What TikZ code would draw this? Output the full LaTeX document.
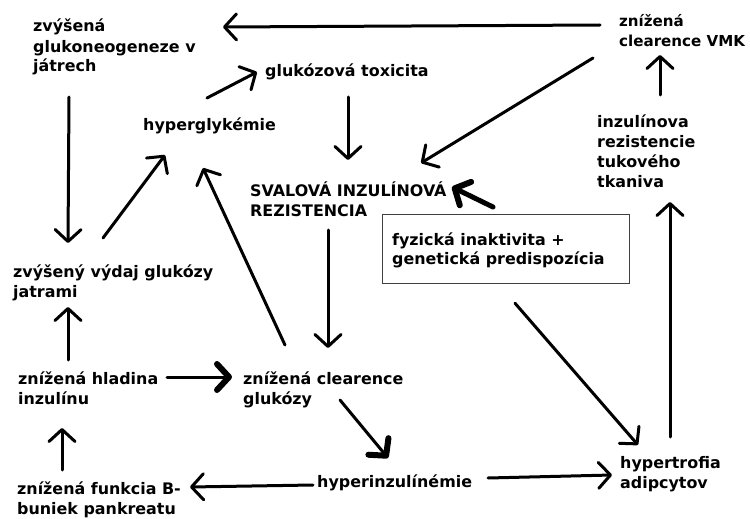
\documentclass[tikz,border=0pt]{standalone}
\usepackage{fontspec}
\setmainfont{DejaVu Sans}
\usetikzlibrary{arrows.meta,calc}
\tikzset{
  lbl/.style={anchor=base west, inner sep=0pt, align=left,
    font=\bfseries\fontsize{15.9}{20}\selectfont, text=black},
  conn/.style={line width=3pt, line cap=round,
    -{Straight Barb[length=12pt,width=26pt,round]}},
  boldconn/.style={line width=3pt, line cap=round,
    -{Straight Barb[length=12pt,width=26pt,round,line width=6pt]}},
  boxframe/.style={draw=black!75, line width=1.2pt, inner sep=0pt, anchor=north west,
    minimum width=247pt, minimum height=69pt},
}
\begin{document}
\begin{tikzpicture}[x=1pt,y=-1pt]
\useasboundingbox (0,0) rectangle (750,519);
% nodes (placed at the baseline of their last line)
\node[lbl] (gneo) at (33,72) {zvýšená\\glukoneogeneze v\\játrech};
\node[lbl] (hyperg) at (143,130) {hyperglykémie};
\node[lbl] (toxic) at (265,77) {glukózová toxicita};
\node[lbl] (sval) at (250,216) {SVALOVÁ INZULÍNOVÁ\\REZISTENCIA};
\node[lbl, font=\bfseries\fontsize{15.1}{20}\selectfont] (vmk) at (619,47) {znížená\\clearence VMK};
\node[lbl] (tuk) at (597,187) {inzulínova\\rezistencie\\tukového\\tkaniva};
\node[boxframe] (box) at (382,214) {};
\node[lbl, font=\bfseries\fontsize{15.9}{19}\selectfont] (boxtext) at (392,264) {fyzická inaktivita +\\genetická predispozícia};
\node[lbl] (vydaj) at (13,297) {zvýšený výdaj glukózy\\jatrami};
\node[lbl] (hladina) at (18,404) {znížená hladina\\inzulínu};
\node[lbl] (clear) at (243,404) {znížená clearence\\glukózy};
\node[lbl] (funkcia) at (17,514) {znížená funkcia B-\\buniek pankreatu};
\node[lbl] (hyperinz) at (317,487) {hyperinzulínémie};
\node[lbl] (hypertrof) at (620,488) {hypertrofia\\adipcytov};
% connectors
\draw[conn] ($(vmk.base west)+(-19,-22)$) -- ($(gneo.base west)+(190,-45)$);
\draw[conn] ($(gneo.base west)+(36,25)$) -- ($(vydaj.base west)+(55,-54)$);
\draw[conn] ($(vydaj.base west)+(90,-59)$) -- ($(hyperg.base west)+(22,25)$);
\draw[conn] ($(hyperg.base west)+(64,-32)$) -- ($(toxic.base west)+(-8,-5)$);
\draw[conn] ($(toxic.base west)+(83,20)$) -- ($(sval.base west)+(98,-56)$);
\draw[conn] ($(vmk.base west)+(-26,11)$) -- ($(sval.base west)+(171,-53)$);
\draw[boldconn, line width=5pt] ($(box.north west)+(111,-7)$) -- ($(sval.base west)+(202,-29)$);
\draw[conn] ($(hypertrof.base west)+(50,-51)$) -- ($(tuk.base west)+(73,15)$);
\draw[conn] ($(tuk.base west)+(63,-92)$) -- ($(vmk.base west)+(41,8)$);
\draw[conn] ($(sval.base west)+(78,14)$) -- ($(clear.base west)+(85,-56)$);
\draw[conn] ($(clear.base west)+(42,-59)$) -- ($(hyperg.base west)+(60,38)$);
\draw[boldconn] ($(hladina.base west)+(149,-27)$) -- ($(clear.base west)+(-11,-27)$);
\draw[conn] ($(hladina.base west)+(50,-44)$) -- ($(vydaj.base west)+(55,10)$);
\draw[conn] ($(funkcia.base west)+(45,-44)$) -- ($(hladina.base west)+(44,24)$);
\draw[conn] ($(hyperinz.base west)+(-4,-2)$) -- ($(funkcia.base west)+(173,-27)$);
\draw[boldconn] ($(clear.base west)+(97,-4)$) -- ($(hyperinz.base west)+(71,-29)$);
\draw[conn] ($(hyperinz.base west)+(171,-9)$) -- ($(hypertrof.base west)+(-8,-13)$);
\draw[conn] ($(box.south west)+(133,19)$) -- ($(hypertrof.base west)+(18,-43)$);
\end{tikzpicture}
\end{document}
